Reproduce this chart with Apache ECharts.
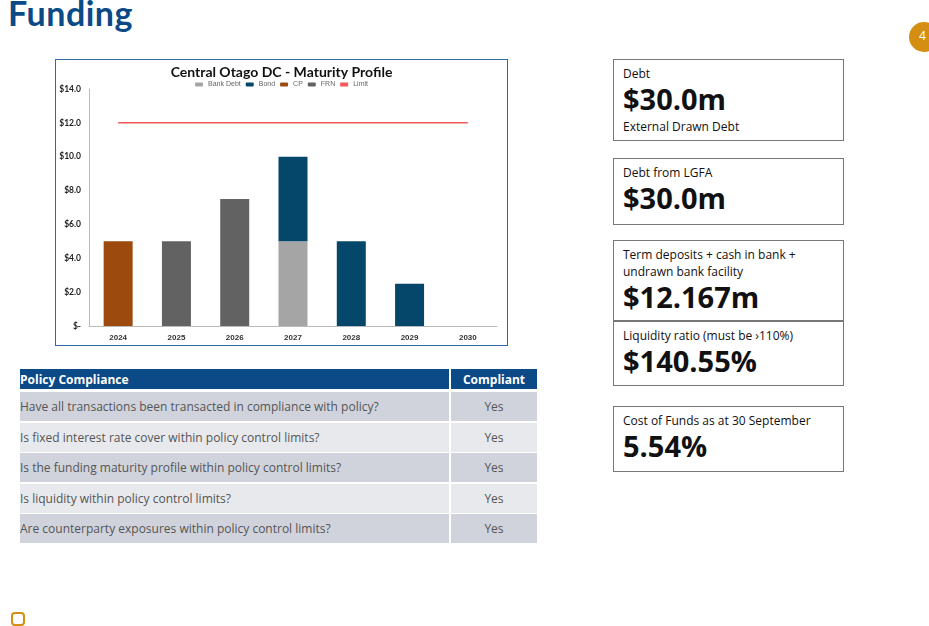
<!DOCTYPE html>
<html><head><meta charset="utf-8">
<script src="https://cdn.jsdelivr.net/npm/echarts@6/dist/echarts.min.js"></script>
<style>
body{margin:0;width:929px;height:626px;position:relative;overflow:hidden;background:#fff;font-family:'Open Sans','Noto Sans',sans-serif;}
.abs{position:absolute;}
#title{left:8px;top:-8px;font-size:34px;font-weight:bold;color:#0b4a86;font-family:'Lato','Open Sans',sans-serif;letter-spacing:0.5px}
#pg{left:909px;top:22px;width:30px;height:30px;border-radius:50%;background:#d48f12;color:#fff;font-size:12px;line-height:28px;text-indent:10px}
#chartDiv{left:55px;top:59px;width:451px;height:285px;border:1px solid #2e6aa8}
.box{left:613px;width:231px;border:1px solid #777;padding:0 9px;box-sizing:border-box;color:#111}
.box .s{font-size:12px;margin-top:5px}
.box .b{font-size:29px;font-weight:bold;line-height:34px}
.row{position:absolute;left:20px;width:517px;font-size:12px;color:#555}
.row div{position:absolute;top:0;bottom:0;display:flex;align-items:center}
.q{left:0;width:429px}
.a{left:431px;width:86px;justify-content:center}
</style></head><body>
<div id="title" class="abs">Funding</div>
<div id="pg" class="abs">4</div>
<div id="chartDiv" class="abs"></div>

<div class="abs box" style="top:59px;height:82px"><div class="s">Debt</div><div class="b">$30.0m</div><div class="s" style="margin-top:2px">External Drawn Debt</div></div>
<div class="abs box" style="top:158px;height:67px"><div class="s">Debt from LGFA</div><div class="b">$30.0m</div></div>
<div class="abs box" style="top:240px;height:81px"><div class="s" style="line-height:17px">Term deposits + cash in bank +<br>undrawn bank facility</div><div class="b">$12.167m</div></div>
<div class="abs box" style="top:321px;height:65px"><div class="s">Liquidity ratio (must be ›110%)</div><div class="b">$140.55%</div></div>
<div class="abs box" style="top:406px;height:66px"><div class="s">Cost of Funds as at 30 September</div><div class="b">5.54%</div></div>

<div id="tbl"></div>
<div class="abs" style="left:11px;top:612px;width:14px;height:14px;border:2px solid #d48f12;border-radius:4px;box-sizing:border-box"></div>

<script>
var years = ['2024','2025','2026','2027','2028','2029','2030'];
var bankDebt = [null,null,null,5,null,null,null];
var bond = [null,null,null,5,5,2.5,null];
var cp = [5,null,null,null,null,null,null];
var frn = [null,5,7.5,null,null,null,null];
var limit = [12,12,12,12,12,12,12];
var questions = ['Have all transactions been transacted in compliance with policy?','Is fixed interest rate cover within policy control limits?','Is the funding maturity profile within policy control limits?','Is liquidity within policy control limits?','Are counterparty exposures within policy control limits?'];
var answers = ['Yes','Yes','Yes','Yes','Yes'];

var html = '<div class="row" style="top:369px;height:20px;color:#fff;font-weight:bold"><div class="q" style="background:#0b4a86">Policy Compliance</div><div class="a" style="background:#0b4a86">Compliant</div></div>';
for (var i = 0; i < questions.length; i++) {
  var bg = i % 2 == 0 ? '#d0d3dc' : '#e8e9ed';
  html += '<div class="row" style="top:'+(392+i*30.6)+'px;height:29px"><div class="q" style="background:'+bg+'">'+questions[i]+'</div><div class="a" style="background:'+bg+'">'+answers[i]+'</div></div>';
}
document.getElementById('tbl').innerHTML = html;

function bar(name, data, color){
  return {name:name,type:'bar',stack:'a',data:data,barWidth:29,itemStyle:{color:color}};
}
var option = {
  animation:false,
  title:{text:'Central Otago DC - Maturity Profile',left:'center',top:0,textStyle:{fontSize:14,fontWeight:'bold',color:'#111',fontFamily:'Lato'}},
  legend:{top:16,itemWidth:8,itemHeight:4,itemGap:5,textStyle:{fontSize:7,color:'#666'},
    data:['Bank Debt','Bond','CP','FRN',{name:'Limit',icon:'rect'}]},
  grid:{left:33,right:10,top:29,bottom:19},
  xAxis:{type:'category',data:years,axisTick:{show:false},axisLine:{lineStyle:{color:'#bbb'}},
    axisLabel:{fontSize:8,fontWeight:'bold',color:'#333'}},
  yAxis:{type:'value',min:0,max:14,interval:2,splitLine:{show:false},
    axisLine:{show:true,lineStyle:{color:'#bbb'}},
    axisLabel:{fontSize:8.5,fontWeight:'bold',color:'#222',fontFamily:'Lato',formatter:function(v){return v==0?'$-':'$'+v.toFixed(1);}}},
  series:[
    bar('Bank Debt',bankDebt,'#a5a5a5'),
    bar('Bond',bond,'#05466b'),
    bar('CP',cp,'#9c4a0e'),
    bar('FRN',frn,'#626262'),
    {name:'Limit',type:'line',data:limit,symbol:'none',itemStyle:{color:'#f05a5a'},lineStyle:{color:'#f05a5a',width:1.5}}
  ]
};
var myCharts1 = echarts.init(document.getElementById('chartDiv'));
myCharts1.setOption(option,true);
</script>
</body></html>
